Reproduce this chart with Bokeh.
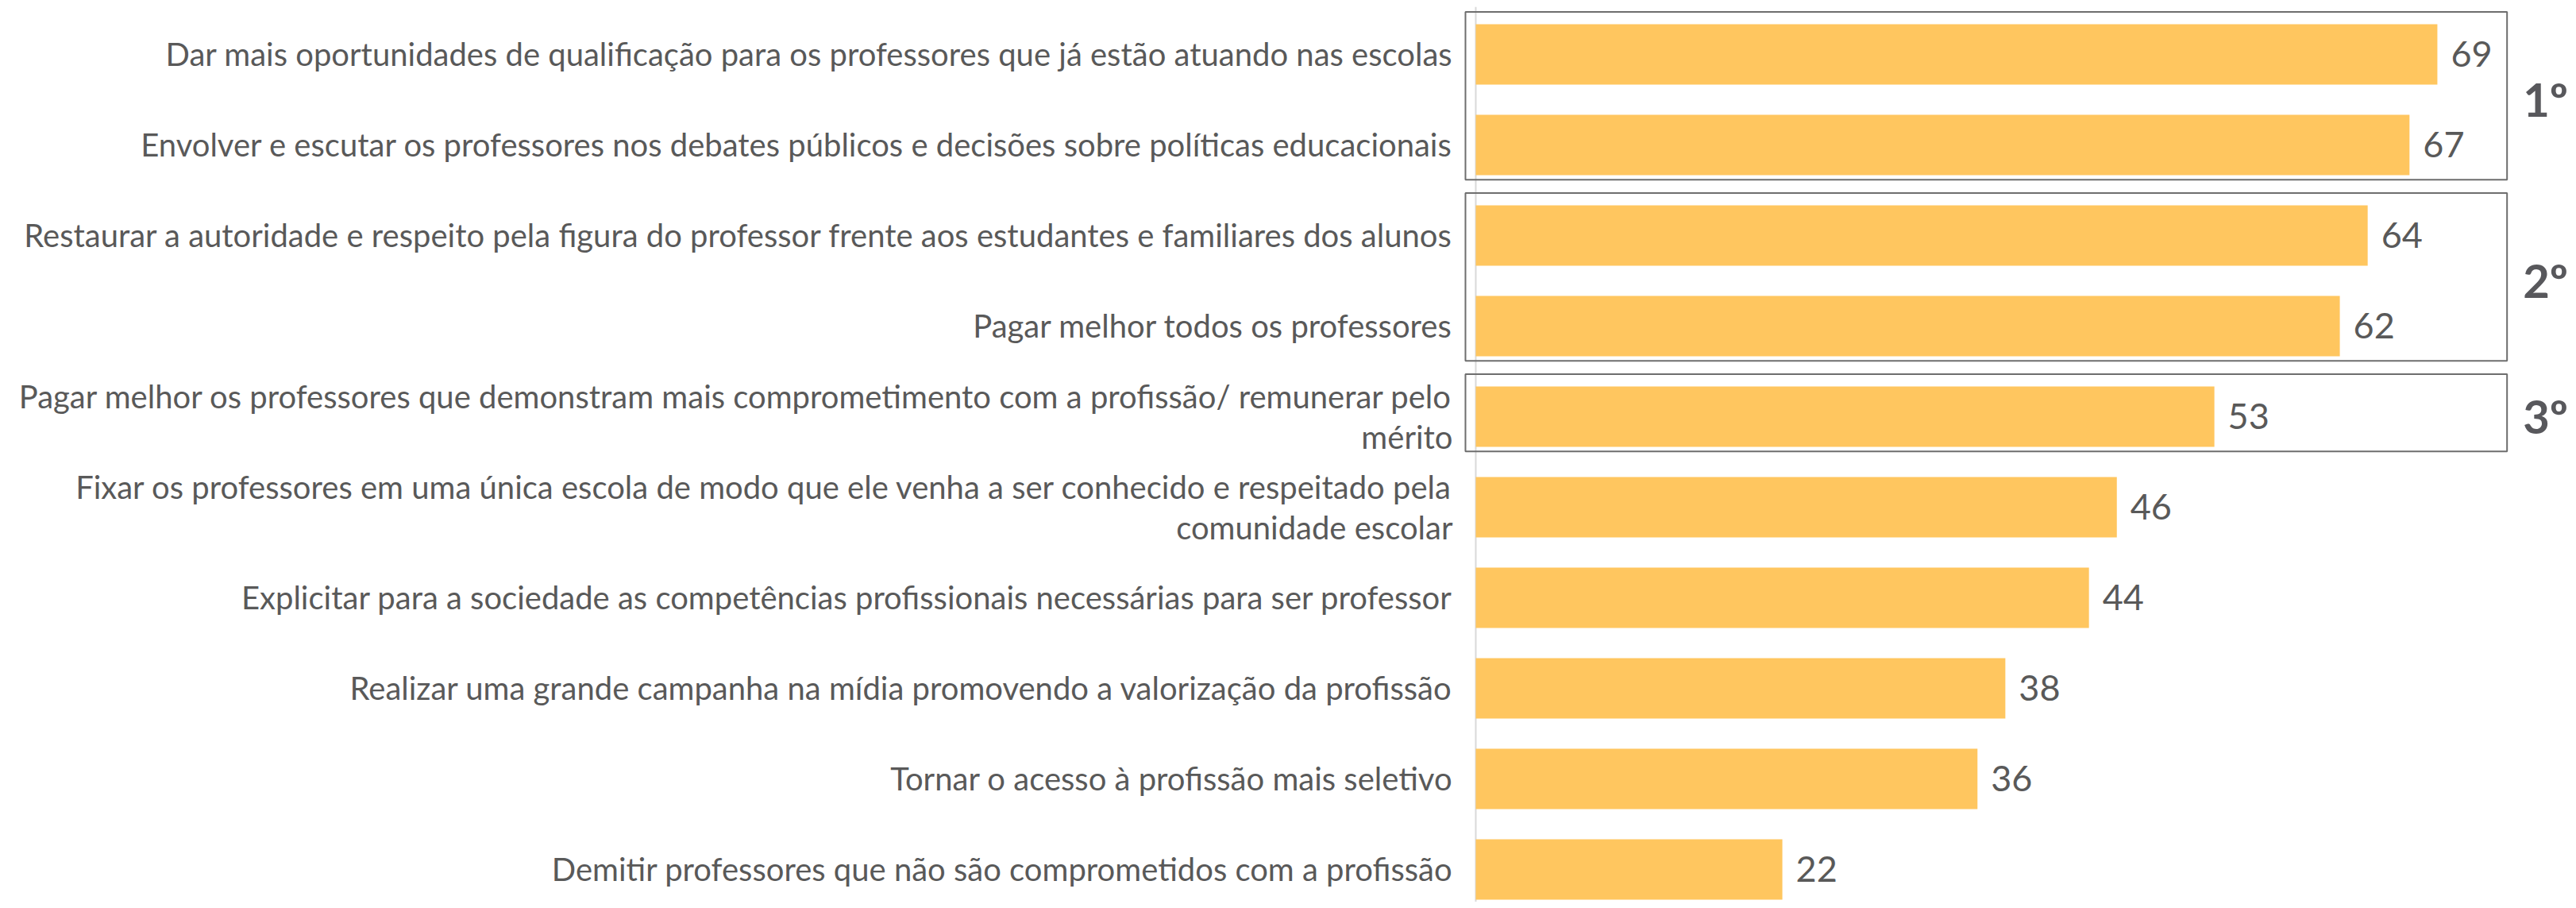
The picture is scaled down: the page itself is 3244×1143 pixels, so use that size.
from bokeh.plotting import figure
from bokeh.models import Range1d, Span, ColumnDataSource
from bokeh.core.properties import value
from bokeh.embed import file_html
from bokeh.resources import INLINE

categories = [
    "Dar mais oportunidades de qualificação para os professores que já estão atuando nas escolas",
    "Envolver e escutar os professores nos debates públicos e decisões sobre políticas educacionais",
    "Restaurar a autoridade e respeito pela figura do professor frente aos estudantes e familiares dos alunos",
    "Pagar melhor todos os professores",
    "Pagar melhor os professores que demonstram mais comprometimento com a profissão/ remunerar pelo\nmérito",
    "Fixar os professores em uma única escola de modo que ele venha a ser conhecido e respeitado pela\ncomunidade escolar",
    "Explicitar para a sociedade as competências profissionais necessárias para ser professor",
    "Realizar uma grande campanha na mídia promovendo a valorização da profissão",
    "Tornar o acesso à profissão mais seletivo",
    "Demitir professores que não são comprometidos com a profissão",
]
values = [69, 67, 64, 62, 53, 46, 44, 38, 36, 22]

rank_labels = ["1º", "2º", "3º"]
rank_first = [0, 2, 4]
rank_last = [1, 3, 4]

BAR_COLOR = "#FFC65F"
TEXT_COLOR = "#595959"
FONT = "Lato"

positions = list(range(len(categories)))
src = ColumnDataSource(dict(y=positions, v=values, cat=categories,
                            vlab=[str(v) for v in values]))

p = figure(width=3236, height=1135,
           x_range=Range1d(-105.41, 78.52),
           y_range=Range1d(9.36, -0.526),
           output_backend="svg", toolbar_location=None,
           min_border_left=8, min_border_right=0,
           min_border_top=8, min_border_bottom=0)
p.axis.visible = False
p.xgrid.grid_line_color = None
p.ygrid.grid_line_color = None
p.outline_line_color = None
p.background_fill_color = "white"
p.border_fill_color = "white"

p.add_layout(Span(location=0, dimension="height", line_color="#D9D9D9",
                  line_width=2, level="underlay"))

p.hbar(y="y", left=0, right="v", height=0.667, source=src,
       fill_color=BAR_COLOR, line_color=None)

p.text(x=0, y="y", text="cat", source=src, x_offset=-29,
       text_align="right", text_baseline="middle",
       text_font=value(FONT), text_font_size="40px",
       text_color=TEXT_COLOR, text_line_height=1.06)

p.text(x="v", y="y", text="vlab", source=src, x_offset=17,
       text_align="left", text_baseline="middle",
       text_font=value(FONT), text_font_size="45px",
       text_color=TEXT_COLOR)

box_left, box_right = -0.74, 74.0
tops = [f - 0.468 for f in rank_first]
bottoms = [l + 0.384 for l in rank_last]
mids = [(t + b) / 2 for t, b in zip(tops, bottoms)]
rsrc = ColumnDataSource(dict(top=tops, bottom=bottoms, mid=mids, lab=rank_labels))
p.quad(left=box_left, right=box_right, top="top", bottom="bottom", source=rsrc,
       fill_alpha=0, line_color="#6E6E6E", line_width=2)
p.text(x=box_right, y="mid", text="lab", source=rsrc, x_offset=20, y_offset=4,
       text_align="left", text_baseline="middle",
       text_font=value(FONT), text_font_size="58px", text_font_style="bold",
       text_color="#58585C")

open("out.html", "w").write(file_html(p, INLINE))
